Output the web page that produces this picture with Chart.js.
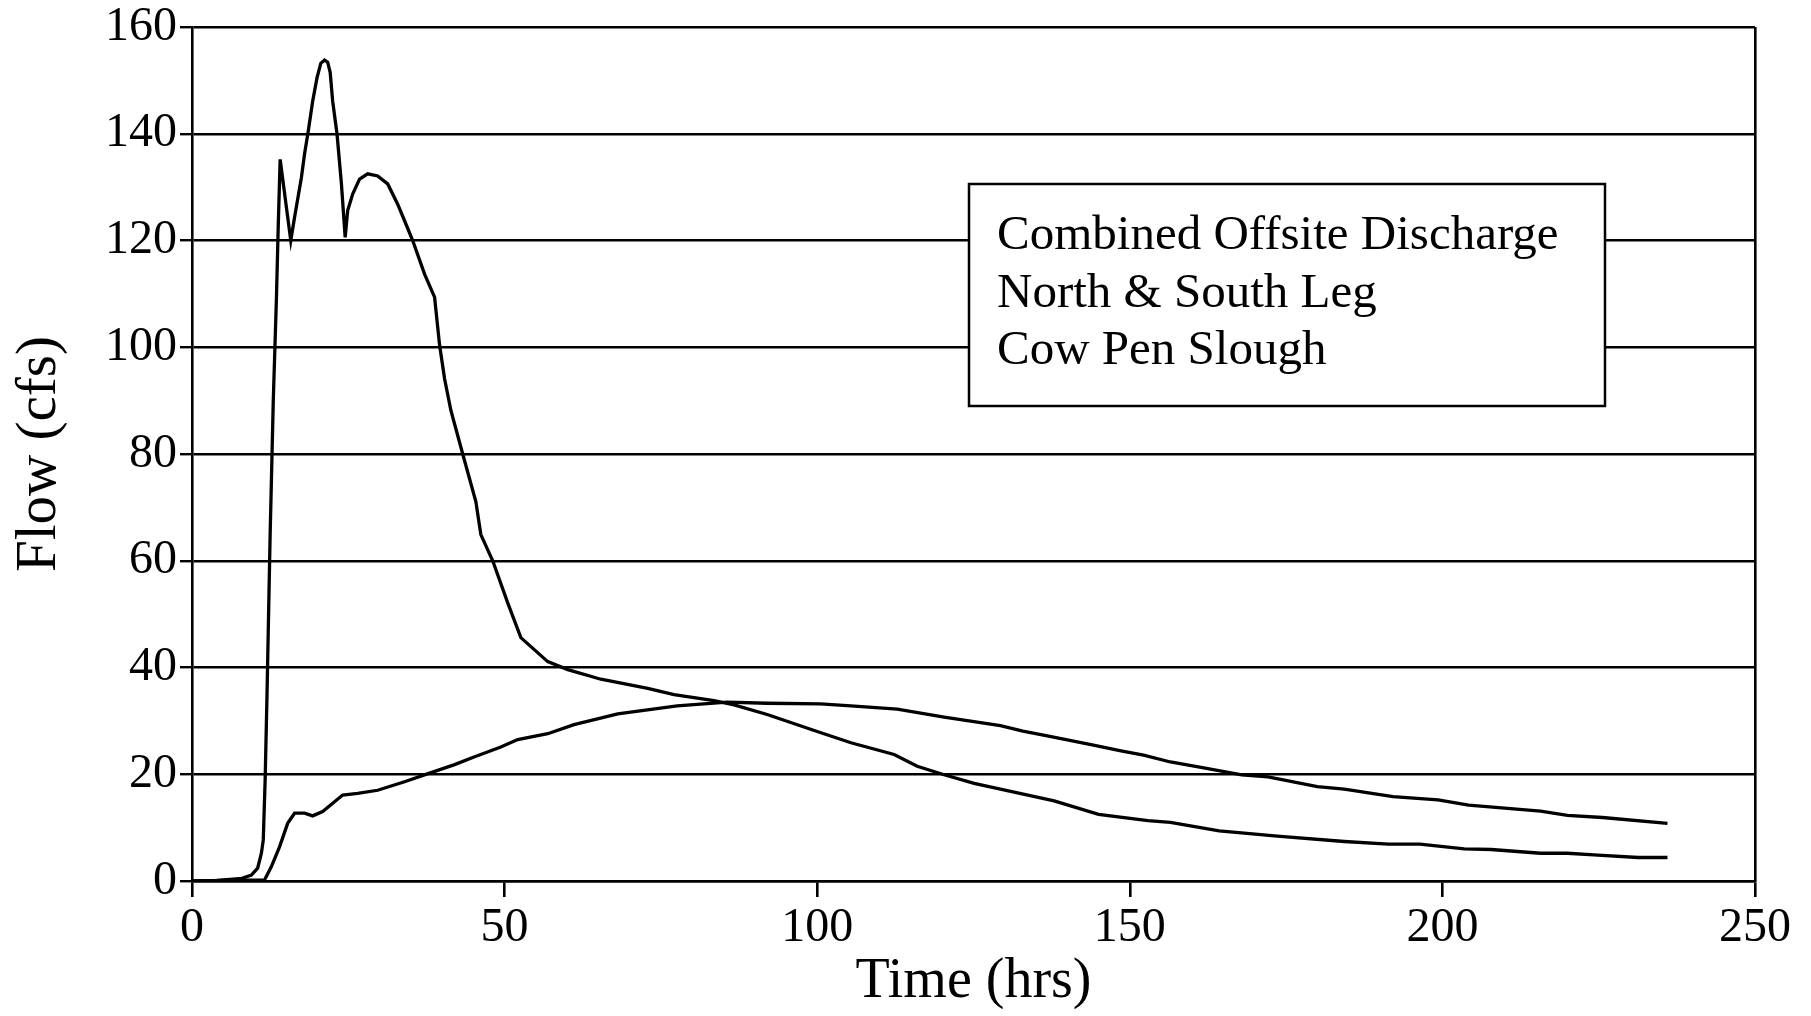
<!DOCTYPE html>
<html>
<head>
<meta charset="utf-8">
<script src="https://cdn.jsdelivr.net/npm/chart.js@4/dist/chart.umd.min.js"></script>
<style>
  html, body { margin: 0; padding: 0; background: #fff; }
  #wrap { width: 1811px; height: 1016px; }
</style>
</head>
<body>
<div id="wrap"><canvas id="flow" width="1811" height="1016"></canvas></div>
<script>
// hydrograph: fast peaked leg
const timeLeg = [0, 4, 8, 9.5, 10.5, 11.1, 11.4, 11.7, 12.0, 12.5, 13.0, 13.5, 13.8, 14.1, 15.1, 15.8,
  16.4, 17.5, 18.0, 18.6, 19.3, 20.0, 20.6, 21.2, 21.7, 22.1, 22.5, 23.2, 23.9, 24.5, 24.9, 25.7, 26.8, 28.1,
  29.7, 31.3, 32.9, 34.0, 35.3, 37.2, 38.8, 39.6, 40.4, 41.4, 43.3, 45.4, 46.2, 48.1, 50.5, 52.6,
  56.9, 60.1, 65.4, 72.9, 77.1, 83.5, 86.7, 92.0, 100, 105.4, 112.3, 116, 120.3, 125.1, 129.3,
  137.9, 145, 152.9, 156.5, 164.3, 173.6, 184.3, 191.4, 196.4, 203.5, 207.8, 215.7, 220, 224.2,
  231.3, 236];
const flowLeg = [0, 0.1, 0.5, 1.1, 2.4, 5.2, 7.7, 19, 35, 65, 90, 109, 123, 135.2, 126.2, 120,
  124.3, 131.8, 136.2, 140.5, 146.1, 150.5, 153.2, 153.8, 153.4, 151.5, 146.1, 139.9, 130.6, 120.6, 125.6, 128.7, 131.5, 132.5,
  132.1, 130.6, 126.8, 123.7, 120, 113.7, 109.4, 100.4, 94.1, 88.2, 80, 71.1, 64.9, 60, 52.1, 45.6,
  41.1, 39.6, 37.8, 36.1, 34.9, 33.8, 33.0, 31.2, 28.0, 25.9, 23.7, 21.5, 19.9, 18.3, 17.2,
  15.0, 12.5, 11.3, 11.0, 9.4, 8.4, 7.4, 6.9, 6.9, 6.0, 5.9, 5.2, 5.2, 4.9,
  4.4, 4.4];

// hydrograph: slow slough
const timeSlough = [0, 11.6, 12.7, 14, 15.3, 16.4, 18, 19.3, 20.9, 24.1, 26.5, 29.7, 34, 38, 42, 45,
  49.4, 52.1, 56.9, 61.1, 68.1, 77.6, 85.6, 92, 100.5, 105.4, 112.8, 120.3, 129.3, 132.9, 136.4,
  143.6, 148.6, 152.2, 156.5, 161.4, 167.9, 172.1, 180, 184.3, 192.1, 199.3, 204.2, 215.7, 220,
  225.6, 236];
const flowSlough = [0, 0.2, 2.7, 6.4, 10.8, 12.7, 12.7, 12.2, 13, 16.1, 16.4, 17, 18.6, 20.2, 21.8, 23.2,
  25.1, 26.5, 27.6, 29.3, 31.3, 32.8, 33.5, 33.3, 33.2, 32.8, 32.2, 30.7, 29.1, 28.1, 27.3,
  25.6, 24.4, 23.6, 22.3, 21.3, 19.9, 19.5, 17.7, 17.2, 15.8, 15.2, 14.2, 13.1, 12.3,
  11.9, 10.8];

const legendLines = ['Combined Offsite Discharge', 'North & South Leg', 'Cow Pen Slough'];

const SERIF = '"Liberation Serif", "Times New Roman", serif';

function toPoints(xs, ys) {
  return xs.map((x, i) => ({ x: x, y: ys[i] }));
}

// white box with the three caption lines, sitting over the grid
const captionBox = {
  id: 'captionBox',
  afterDraw(chart) {
    const ctx = chart.ctx;
    ctx.save();
    ctx.fillStyle = '#fff';
    ctx.fillRect(969, 184, 636, 222);
    ctx.strokeStyle = '#000';
    ctx.lineWidth = 2.5;
    ctx.strokeRect(969, 184, 636, 222);
    ctx.fillStyle = '#000';
    ctx.font = '49px ' + SERIF;
    ctx.textBaseline = 'alphabetic';
    legendLines.forEach((line, i) => {
      ctx.fillText(line, 997, 249 + i * 57.5);
    });
    ctx.restore();
  }
};

const ctx = document.getElementById('flow').getContext('2d');
new Chart(ctx, {
  type: 'line',
  data: {
    datasets: [
      {
        label: 'North & South Leg',
        data: toPoints(timeLeg, flowLeg),
        borderColor: '#000',
        borderWidth: 3.3,
        pointRadius: 0,
        tension: 0,
        fill: false
      },
      {
        label: 'Cow Pen Slough',
        data: toPoints(timeSlough, flowSlough),
        borderColor: '#000',
        borderWidth: 3.3,
        pointRadius: 0,
        tension: 0,
        fill: false
      }
    ]
  },
  options: {
    responsive: false,
    animation: false,
    devicePixelRatio: 1,
    layout: { padding: { top: 26, right: 56, left: 0, bottom: 0 } },
    plugins: {
      legend: { display: false },
      tooltip: { enabled: false }
    },
    scales: {
      x: {
        type: 'linear',
        min: 0,
        max: 250,
        ticks: {
          stepSize: 50,
          color: '#000',
          font: { family: SERIF, size: 48, lineHeight: 1 },
          padding: 7,
          maxRotation: 0
        },
        grid: {
          color: c => (c.tick && c.tick.value === 250 ? '#000' : 'rgba(0,0,0,0)'),
          tickColor: '#000',
          lineWidth: 2.6,
          tickLength: 16,
          tickWidth: 2.6
        },
        border: { display: true, color: '#000', width: 2.6 },
        title: {
          display: true,
          text: 'Time (hrs)',
          color: '#000',
          font: { family: SERIF, size: 56, lineHeight: 1.2 },
          padding: { top: 0, bottom: 0 }
        },
        afterFit: scale => { scale.height = 135; }
      },
      y: {
        min: 0,
        max: 160,
        ticks: {
          stepSize: 20,
          color: '#000',
          font: { family: SERIF, size: 48, lineHeight: 1 },
          padding: 3
        },
        grid: {
          color: '#000',
          lineWidth: 2.4,
          tickLength: 12,
          tickWidth: 2.4
        },
        border: { display: true, color: '#000', width: 2.6 },
        title: {
          display: true,
          text: 'Flow (cfs)',
          color: '#000',
          font: { family: SERIF, size: 57, lineHeight: 1.2 },
          padding: { top: 6, bottom: 0 }
        },
        afterFit: scale => { scale.width = 192; }
      }
    }
  },
  plugins: [captionBox]
});
</script>
</body>
</html>
